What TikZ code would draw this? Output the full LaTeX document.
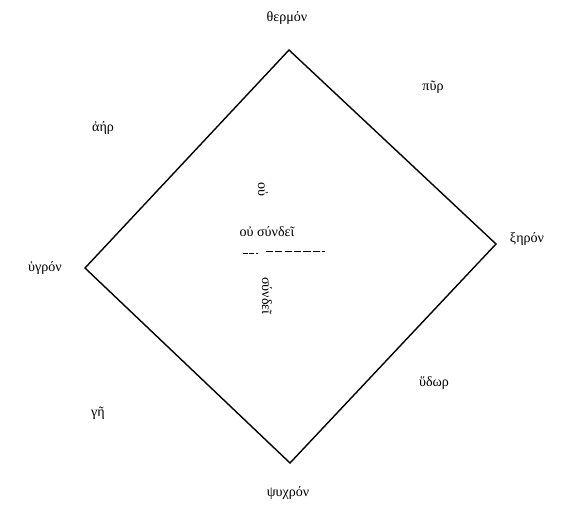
\documentclass[tikz,border=0pt]{standalone}
\usepackage{fontspec}
\setmainfont{Liberation Serif}
\usepackage{tikz}

\begin{document}
\begin{tikzpicture}[x=0.03cm,y=-0.03cm]
			\tikzset{lbl/.style={font=\fontsize{12}{14}\selectfont, inner sep=1pt}}
			\useasboundingbox (0,0) rectangle (563,513);
			\coordinate (top) at (289,50);
			\coordinate (right) at (496,244);
			\coordinate (bottom) at (290,463);
			\coordinate (left) at (85,268);
			\draw[line width=1.2pt, line join=miter] (top) -- (right) -- (bottom) -- (left) -- cycle;

			\node[lbl] (thermon) at (287,18) {θερμόν};
			\node[lbl] (xeron) at (527,239) {ξηρόν};
			\node[lbl] (psychron) at (288,493) {ψυχρόν};
			\node[lbl] (hygron) at (45,268) {ὑγρόν};

			\node[lbl] (pyr) at (433,87) {πῦρ};
			\node[lbl] (aer) at (103,128) {ἀήρ};
			\node[lbl] (hydor) at (434,383) {ὕδωρ};
			\node[lbl] (ge) at (98,413) {γῆ};

			\node[lbl, rotate=-90] (ou) at (263,189) {οὐ};
			\node[lbl] (ousyndei) at (267,232) {οὐ σύνδεῖ};
			\node[lbl, rotate=-90] (syndei) at (267,296) {σύνδεῖ};
			\coordinate (d1) at (243,253);
			\coordinate (d2) at (258,253);
			\coordinate (d3) at (266,251);
			\coordinate (d4) at (325,251);
			\draw[thin, dash pattern=on 4pt off 1.5pt] (d1) -- (d2);
			\draw[thin, dash pattern=on 6pt off 2pt] (d3) -- (d4);
\end{tikzpicture}
\end{document}
